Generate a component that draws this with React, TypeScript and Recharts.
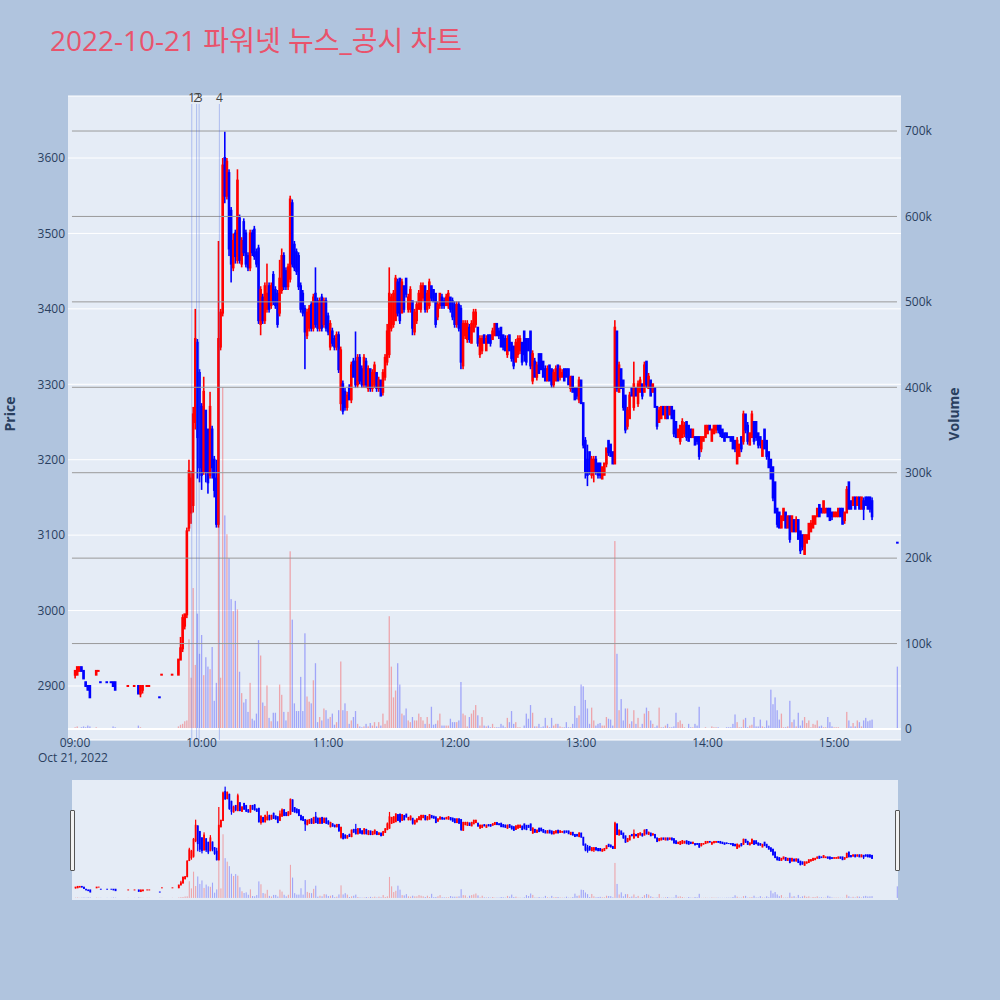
import React from "react";
import { ComposedChart, Bar, XAxis, YAxis, CartesianGrid, ReferenceLine } from "recharts";

// minutes after 09:00 (390 = 15:30 closing auction)
const minute = [
  0, 1, 2, 3, 4, 5, 6, 7, 10, 11, 12, 15, 17, 18, 19, 25, 28, 30, 31, 32, 34, 35, 40, 41, 46, 49, 50, 51, 52,
  53, 54, 55, 56, 57, 58, 59, 60, 61, 62,
  63, 64, 65, 66, 67, 68, 69, 70, 71, 72,
  73, 74, 75, 76, 77, 78, 79, 80, 81, 82,
  83, 84, 85, 86, 87, 88, 89, 90, 91, 92,
  93, 94, 95, 96, 97, 98, 99, 100, 101, 102,
  103, 104, 105, 106, 107, 108, 109, 110, 111, 112,
  113, 114, 115, 116, 117, 118, 119, 120, 121, 122,
  123, 124, 125, 126, 127, 128, 129, 130, 131, 132,
  133, 134, 135, 136, 137, 138, 139, 140, 141, 142,
  143, 144, 145, 146, 147, 148, 149, 150, 151, 152,
  153, 154, 155, 156, 157, 158, 159, 160, 161, 162,
  163, 164, 165, 166, 167, 168, 169, 170, 171, 172,
  173, 174, 175, 176, 177, 178, 179, 180, 181, 182,
  183, 184, 185, 186, 187, 188, 189, 190, 191, 192,
  193, 194, 195, 196, 197, 198, 199, 200, 201, 202,
  203, 204, 205, 206, 207, 208, 209, 210, 211, 212,
  213, 214, 215, 216, 217, 218, 219, 220, 221, 222,
  223, 224, 225, 226, 227, 228, 229, 230, 231, 232,
  233, 234, 235, 236, 237, 238, 239, 240, 241, 242,
  243, 244, 245, 246, 247, 248, 249, 250, 251, 252,
  253, 254, 255, 256, 257, 258, 259, 260, 261, 262,
  263, 264, 265, 266, 267, 268, 269, 270, 271, 272,
  273, 274, 275, 276, 277, 278, 279, 280, 281, 282,
  283, 284, 285, 286, 287, 288, 289, 290, 291, 292,
  293, 294, 295, 296, 297, 298, 299, 300, 301, 302,
  303, 304, 305, 306, 307, 308, 309, 310, 311, 312,
  313, 314, 315, 316, 317, 318, 319, 320, 321, 322,
  323, 324, 325, 326, 327, 328, 329, 330, 331, 332,
  333, 334, 335, 336, 337, 338, 339, 340, 341, 342,
  343, 344, 345, 346, 347, 348, 349, 350, 351, 352,
  353, 354, 355, 356, 357, 358, 359, 360, 361, 362,
  363, 364, 365, 366, 367, 368, 369, 370, 371, 372,
  373, 374, 375, 376, 377, 378,
  390,
];

const open = [
  2915, 2915, 2920, 2925, 2920, 2905, 2900, 2900, 2915, 2920, 2905, 2905, 2905, 2905, 2905, 2900, 2900, 2900, 2890, 2895, 2900, 2900, 2885, 2915, 2915, 2915, 2935, 2950, 2980,
  2995, 3110, 3130, 3140, 3250, 3355, 3315, 3270, 3185, 3265,
  3240, 3180, 3240, 3200, 3175, 3115, 3350, 3395, 3600, 3550,
  3580, 3530, 3455, 3500, 3465, 3520, 3460, 3515, 3500, 3470,
  3455, 3500, 3505, 3475, 3480, 3380, 3415, 3385, 3400, 3430,
  3405, 3445, 3425, 3420, 3395, 3425, 3470, 3450, 3430, 3440,
  3540, 3485, 3475, 3470, 3430, 3420, 3400, 3365, 3375, 3405,
  3375, 3420, 3410, 3375, 3415, 3380, 3410, 3390, 3350, 3370,
  3360, 3350, 3365, 3275, 3300, 3290, 3270, 3295, 3280, 3330,
  3330, 3300, 3335, 3320, 3300, 3330, 3295, 3320, 3295, 3300,
  3315, 3295, 3305, 3290, 3310, 3330, 3340, 3375, 3380, 3385,
  3435, 3440, 3395, 3430, 3440, 3400, 3400, 3410, 3370, 3385,
  3400, 3400, 3415, 3430, 3400, 3405, 3430, 3425, 3420, 3390,
  3405, 3415, 3410, 3405, 3405, 3415, 3410, 3405, 3380, 3405,
  3400, 3325, 3365, 3360, 3375, 3355, 3370, 3380, 3375, 3340,
  3345, 3365, 3345, 3365, 3365, 3360, 3365, 3380, 3370, 3375,
  3365, 3360, 3340, 3365, 3355, 3350, 3330, 3340, 3345, 3355,
  3370, 3360, 3360, 3370, 3305, 3330, 3310, 3340, 3340, 3330,
  3320, 3305, 3325, 3320, 3300, 3305, 3325, 3310, 3310, 3320,
  3320, 3320, 3295, 3310, 3295, 3295, 3280, 3305, 3275, 3225,
  3200, 3210, 3180, 3185, 3200, 3195, 3195, 3175, 3180, 3195,
  3225, 3220, 3210, 3195, 3370, 3290, 3320, 3305, 3285, 3245,
  3255, 3295, 3270, 3295, 3275, 3290, 3300, 3290, 3330, 3295,
  3305, 3290, 3295, 3270, 3250, 3255, 3270, 3255, 3270, 3260,
  3270, 3265, 3250, 3230, 3225, 3230, 3235, 3250, 3245, 3240,
  3230, 3230, 3230, 3230, 3215, 3225, 3230, 3235, 3245, 3225,
  3235, 3240, 3245, 3245, 3240, 3235, 3235, 3230, 3230, 3230,
  3225, 3195, 3205, 3230, 3225, 3260, 3245, 3220, 3230, 3250,
  3250, 3235, 3230, 3205, 3240, 3225, 3210, 3200, 3190, 3170,
  3135, 3130, 3110, 3120, 3130, 3110, 3125, 3105, 3120, 3105,
  3120, 3105, 3100, 3075, 3090, 3095, 3105, 3110, 3115, 3125,
  3140, 3135, 3130, 3130, 3135, 3135, 3130, 3125, 3125, 3125,
  3135, 3135, 3120, 3130, 3170, 3145, 3140, 3150, 3140, 3150,
  3135, 3145, 3150, 3150, 3150, 3145,
  3090,
];

const high = [
  2920, 2925, 2925, 2925, 2920, 2905, 2900, 2900, 2920, 2920, 2905, 2905, 2905, 2905, 2905, 2900, 2900, 2900, 2900, 2900, 2900, 2900, 2885, 2915, 2915, 2935, 2965, 2995, 2995,
  3110, 3200, 3185, 3270, 3400, 3360, 3320, 3275, 3310, 3265,
  3240, 3290, 3245, 3205, 3200, 3490, 3400, 3600, 3635, 3600,
  3585, 3535, 3500, 3505, 3585, 3525, 3495, 3520, 3505, 3475,
  3505, 3505, 3510, 3480, 3485, 3430, 3420, 3435, 3460, 3435,
  3435, 3450, 3430, 3425, 3465, 3480, 3475, 3455, 3460, 3550,
  3545, 3490, 3480, 3475, 3435, 3425, 3405, 3400, 3405, 3410,
  3420, 3455, 3415, 3415, 3420, 3415, 3415, 3395, 3385, 3375,
  3365, 3370, 3370, 3350, 3305, 3295, 3290, 3300, 3330, 3335,
  3370, 3340, 3340, 3325, 3340, 3335, 3325, 3320, 3320, 3330,
  3315, 3310, 3305, 3320, 3340, 3380, 3455, 3420, 3425, 3445,
  3440, 3440, 3440, 3430, 3440, 3420, 3430, 3410, 3400, 3410,
  3425, 3435, 3435, 3430, 3425, 3440, 3430, 3425, 3420, 3410,
  3420, 3420, 3415, 3420, 3425, 3415, 3415, 3410, 3410, 3410,
  3405, 3385, 3385, 3385, 3380, 3385, 3400, 3400, 3375, 3365,
  3365, 3365, 3365, 3365, 3365, 3375, 3380, 3380, 3375, 3375,
  3365, 3365, 3365, 3365, 3355, 3350, 3360, 3365, 3365, 3355,
  3370, 3360, 3360, 3370, 3345, 3335, 3330, 3340, 3340, 3330,
  3325, 3325, 3325, 3320, 3320, 3325, 3325, 3325, 3320, 3320,
  3320, 3320, 3310, 3310, 3295, 3295, 3310, 3305, 3275, 3230,
  3220, 3210, 3205, 3205, 3205, 3195, 3195, 3190, 3195, 3215,
  3225, 3220, 3210, 3385, 3370, 3330, 3320, 3305, 3285, 3270,
  3290, 3295, 3330, 3295, 3305, 3310, 3300, 3330, 3330, 3315,
  3305, 3300, 3295, 3270, 3270, 3270, 3270, 3270, 3270, 3270,
  3270, 3265, 3250, 3240, 3245, 3255, 3250, 3250, 3245, 3240,
  3240, 3230, 3230, 3230, 3230, 3230, 3245, 3245, 3245, 3240,
  3245, 3245, 3245, 3245, 3240, 3235, 3235, 3230, 3230, 3230,
  3225, 3230, 3220, 3230, 3265, 3260, 3250, 3235, 3265, 3250,
  3250, 3235, 3230, 3225, 3240, 3225, 3210, 3200, 3190, 3170,
  3135, 3130, 3125, 3135, 3130, 3125, 3125, 3125, 3120, 3125,
  3120, 3105, 3100, 3100, 3100, 3115, 3120, 3125, 3125, 3135,
  3140, 3135, 3145, 3135, 3135, 3135, 3130, 3130, 3130, 3135,
  3135, 3135, 3130, 3165, 3170, 3145, 3150, 3150, 3150, 3150,
  3150, 3150, 3150, 3150, 3150, 3150,
  3090,
];

const low = [
  2910, 2915, 2920, 2920, 2910, 2900, 2895, 2885, 2915, 2920, 2905, 2905, 2905, 2900, 2895, 2900, 2900, 2890, 2885, 2890, 2900, 2900, 2885, 2915, 2915, 2915, 2935, 2945, 2975,
  2990, 3105, 3115, 3130, 3240, 3175, 3170, 3160, 3180, 3170,
  3155, 3175, 3175, 3150, 3110, 3110, 3345, 3390, 3540, 3545,
  3470, 3435, 3450, 3460, 3460, 3460, 3455, 3470, 3455, 3450,
  3450, 3470, 3465, 3455, 3380, 3365, 3380, 3380, 3395, 3395,
  3400, 3405, 3400, 3375, 3390, 3420, 3425, 3425, 3425, 3435,
  3455, 3450, 3445, 3425, 3395, 3390, 3320, 3360, 3370, 3370,
  3370, 3375, 3370, 3370, 3370, 3375, 3370, 3365, 3345, 3350,
  3345, 3345, 3315, 3265, 3260, 3265, 3265, 3280, 3275, 3310,
  3295, 3295, 3300, 3295, 3295, 3295, 3290, 3290, 3290, 3295,
  3290, 3290, 3285, 3285, 3305, 3325, 3335, 3370, 3375, 3385,
  3390, 3380, 3395, 3395, 3415, 3395, 3395, 3365, 3365, 3380,
  3400, 3395, 3410, 3395, 3395, 3400, 3410, 3410, 3375, 3385,
  3400, 3400, 3400, 3405, 3400, 3395, 3385, 3375, 3375, 3370,
  3320, 3320, 3360, 3355, 3355, 3355, 3370, 3375, 3350, 3335,
  3340, 3355, 3345, 3355, 3350, 3360, 3365, 3365, 3360, 3350,
  3345, 3345, 3335, 3345, 3330, 3320, 3330, 3335, 3340, 3325,
  3330, 3325, 3345, 3320, 3300, 3310, 3305, 3315, 3320, 3310,
  3305, 3305, 3305, 3295, 3295, 3305, 3305, 3305, 3310, 3305,
  3310, 3300, 3290, 3290, 3280, 3280, 3275, 3275, 3215, 3175,
  3165, 3180, 3175, 3170, 3180, 3175, 3175, 3175, 3180, 3190,
  3205, 3205, 3195, 3195, 3290, 3290, 3295, 3265, 3235, 3240,
  3255, 3285, 3265, 3285, 3270, 3290, 3280, 3290, 3295, 3295,
  3285, 3290, 3270, 3240, 3250, 3255, 3260, 3255, 3255, 3260,
  3255, 3230, 3230, 3230, 3220, 3230, 3230, 3225, 3225, 3230,
  3230, 3220, 3220, 3200, 3210, 3225, 3230, 3235, 3240, 3225,
  3235, 3235, 3235, 3230, 3230, 3225, 3230, 3230, 3225, 3215,
  3210, 3195, 3205, 3210, 3220, 3235, 3220, 3220, 3230, 3220,
  3225, 3215, 3215, 3205, 3215, 3200, 3190, 3175, 3145, 3130,
  3110, 3110, 3110, 3120, 3110, 3110, 3090, 3105, 3105, 3105,
  3095, 3075, 3080, 3075, 3090, 3095, 3105, 3110, 3115, 3125,
  3125, 3130, 3130, 3130, 3125, 3120, 3120, 3125, 3125, 3125,
  3125, 3115, 3115, 3130, 3135, 3135, 3140, 3135, 3140, 3135,
  3135, 3120, 3140, 3135, 3130, 3120,
  3090,
];

const close = [
  2920, 2925, 2925, 2920, 2910, 2900, 2895, 2885, 2920, 2920, 2905, 2905, 2905, 2900, 2895, 2900, 2900, 2890, 2900, 2900, 2900, 2900, 2885, 2915, 2915, 2935, 2950, 2990, 2995,
  3105, 3185, 3175, 3260, 3360, 3230, 3190, 3180, 3290, 3185,
  3170, 3270, 3190, 3160, 3115, 3360, 3395, 3590, 3550, 3595,
  3480, 3460, 3490, 3470, 3570, 3465, 3490, 3475, 3460, 3455,
  3500, 3475, 3470, 3460, 3385, 3425, 3385, 3430, 3420, 3400,
  3430, 3410, 3405, 3380, 3440, 3470, 3430, 3430, 3455, 3545,
  3460, 3455, 3450, 3430, 3400, 3395, 3370, 3395, 3400, 3375,
  3415, 3380, 3375, 3410, 3375, 3410, 3375, 3370, 3380, 3355,
  3350, 3365, 3320, 3345, 3265, 3270, 3285, 3280, 3325, 3310,
  3300, 3335, 3305, 3300, 3335, 3300, 3320, 3295, 3315, 3325,
  3295, 3305, 3285, 3315, 3335, 3370, 3420, 3415, 3420, 3440,
  3395, 3385, 3435, 3400, 3420, 3415, 3425, 3375, 3395, 3405,
  3420, 3430, 3430, 3400, 3420, 3435, 3415, 3410, 3380, 3405,
  3420, 3405, 3405, 3415, 3420, 3400, 3390, 3380, 3405, 3375,
  3330, 3380, 3380, 3380, 3360, 3380, 3395, 3395, 3355, 3360,
  3360, 3355, 3360, 3355, 3355, 3370, 3380, 3365, 3365, 3350,
  3350, 3345, 3360, 3345, 3335, 3325, 3355, 3360, 3360, 3330,
  3340, 3330, 3345, 3325, 3340, 3310, 3325, 3315, 3320, 3310,
  3305, 3320, 3305, 3300, 3315, 3320, 3305, 3320, 3315, 3305,
  3310, 3300, 3310, 3290, 3280, 3285, 3305, 3275, 3220, 3185,
  3180, 3185, 3200, 3200, 3185, 3180, 3180, 3190, 3195, 3215,
  3210, 3205, 3195, 3375, 3295, 3325, 3295, 3270, 3240, 3265,
  3285, 3285, 3300, 3285, 3300, 3305, 3285, 3325, 3300, 3310,
  3285, 3300, 3270, 3245, 3265, 3270, 3260, 3270, 3255, 3270,
  3255, 3235, 3230, 3240, 3245, 3250, 3245, 3230, 3225, 3230,
  3240, 3220, 3225, 3205, 3230, 3230, 3245, 3245, 3240, 3240,
  3245, 3245, 3240, 3235, 3230, 3225, 3230, 3230, 3225, 3215,
  3215, 3225, 3220, 3215, 3260, 3240, 3225, 3235, 3260, 3225,
  3230, 3220, 3220, 3225, 3215, 3205, 3190, 3175, 3150, 3130,
  3115, 3110, 3125, 3135, 3110, 3125, 3095, 3125, 3105, 3120,
  3095, 3080, 3085, 3100, 3100, 3115, 3115, 3125, 3125, 3135,
  3125, 3130, 3145, 3135, 3125, 3120, 3125, 3130, 3130, 3135,
  3125, 3115, 3130, 3160, 3135, 3135, 3150, 3135, 3150, 3135,
  3150, 3135, 3140, 3135, 3135, 3125,
  3090,
];

// traded volume, thousands of shares
const volumeK = [
  2, 3, 1, 2, 3, 2, 4, 3, 2, 1, 1, 1, 1, 3, 2, 1, 1, 4, 2, 1, 1, 1, 1, 1, 1, 3, 5, 6, 9,
  10, 105, 60, 165, 75, 135, 88, 110, 63, 84,
  73, 70, 96, 33, 54, 300, 60, 400, 250, 228,
  200, 152, 138, 150, 140, 67, 42, 31, 35, 20,
  54, 12, 10, 18, 104, 86, 31, 27, 51, 13,
  9, 19, 19, 9, 52, 40, 20, 10, 20, 208,
  128, 30, 21, 21, 61, 21, 112, 38, 32, 30,
  57, 77, 8, 14, 10, 24, 22, 12, 14, 18,
  5, 8, 22, 79, 22, 30, 21, 6, 10, 14,
  21, 6, 3, 2, 3, 6, 3, 7, 4, 8,
  3, 8, 4, 18, 6, 10, 132, 73, 37, 45,
  77, 52, 18, 16, 24, 10, 8, 14, 10, 10,
  18, 14, 10, 6, 14, 6, 26, 5, 6, 10,
  18, 4, 4, 4, 4, 12, 8, 8, 8, 10,
  55, 18, 16, 3, 14, 18, 22, 28, 16, 4,
  14, 4, 3, 4, 2, 6, 2, 2, 2, 6,
  4, 2, 13, 8, 21, 6, 8, 2, 2, 1,
  4, 18, 12, 28, 19, 3, 3, 6, 2, 3,
  13, 4, 2, 13, 4, 6, 6, 3, 2, 2,
  8, 2, 2, 6, 27, 13, 16, 52, 50, 34,
  24, 6, 25, 10, 4, 6, 7, 4, 4, 14,
  12, 11, 4, 220, 88, 22, 35, 10, 24, 24,
  6, 9, 22, 6, 13, 2, 6, 18, 25, 21,
  10, 6, 2, 4, 25, 2, 2, 4, 6, 2,
  2, 3, 19, 8, 10, 6, 2, 1, 6, 2,
  2, 6, 4, 26, 1, 1, 2, 1, 1, 3,
  2, 2, 2, 1, 1, 1, 2, 2, 2, 6,
  17, 8, 2, 2, 11, 13, 2, 4, 5, 14,
  3, 3, 11, 3, 2, 10, 4, 46, 29, 37,
  22, 11, 18, 2, 2, 3, 33, 8, 11, 3,
  19, 4, 10, 14, 7, 10, 2, 6, 5, 10,
  3, 4, 2, 2, 14, 8, 3, 2, 2, 2,
  1, 1, 1, 20, 10, 3, 7, 3, 10, 8,
  3, 10, 13, 9, 10, 11,
  73,
];

// news / disclosure markers (minutes after 09:00)
const newsMinute = [55.4, 57.7, 58.9, 68.5];
const newsLabel = ["1", "2", "3", "4"];

const priceTicks = [2900, 3000, 3100, 3200, 3300, 3400, 3500, 3600];
const volumeTicks = [0, 100000, 200000, 300000, 400000, 500000, 600000, 700000];
const timeTicks = [0, 60, 120, 180, 240, 300, 360];
const timeLabels = ["09:00", "10:00", "11:00", "12:00", "13:00", "14:00", "15:00"];
const dateLabel = "Oct 21, 2022";
const title = "2022-10-21 파워넷 뉴스_공시 차트";

const UP = "#ff0000";
const DOWN = "#0000ff";
const INK = "#2a3f5f";
const PLOT_BG = "#e5ecf6";
const PAPER = "#b0c4de";
const FONT = '"Open Sans", "Noto Sans CJK KR", verdana, arial, sans-serif';

const PRICE_DOMAIN: [number, number] = [2828.4, 3682.2];
const VOL_DOMAIN: [number, number] = [-12900, 741000];
const MAIN_X: [number, number] = [-3.3, 391.8];
const SLIDER_X: [number, number] = [-1.6, 390.4];
const NEWS_TOP = 3671.6;

type Row = { t: number; o: number; h: number; l: number; c: number; v: number; up: boolean; range: [number, number] };

const rows: Row[] = [];
{
  let prevClose = NaN;
  let prevUp = true;
  minute.forEach((t, i) => {
    const o = open[i];
    const c = close[i];
    // plotly rule: flat candles take direction from the previous close
    let up = prevUp;
    if (c > o) up = true;
    else if (c < o) up = false;
    else if (c > prevClose) up = true;
    else if (c < prevClose) up = false;
    prevClose = c;
    prevUp = up;
    rows.push({ t, o, h: high[i], l: low[i], c, v: volumeK[i] * 1000, up, range: [low[i], high[i]] });
  });
}

const makeCandle = (bodyW: number, wickW: number, pad: number) => (props: any) => {
  const { x, y, width, height, payload } = props;
  if (!payload || !Number.isFinite(x) || !Number.isFinite(y)) return <g />;
  const { o, h, l, c, up } = payload as Row;
  const hh = Number.isFinite(height) ? height : 0;
  const k = h > l ? hh / (h - l) : 0;
  const mid = x + width / 2;
  const top = y + (h - Math.max(o, c)) * k;
  const bot = y + (h - Math.min(o, c)) * k;
  const col = up ? UP : DOWN;
  return (
    <g>
      <rect x={mid - wickW / 2} y={y} width={wickW} height={Math.max(hh, 0)} fill={col} />
      <rect x={mid - bodyW / 2} y={top - pad} width={bodyW} height={bot - top + 2 * pad} fill={col} />
    </g>
  );
};

const makeVolume = (w: number) => (props: any) => {
  const { x, y, width, height, payload } = props;
  if (!payload || !(height > 0)) return <g />;
  return (
    <rect x={x + width / 2 - w / 2} y={y} width={w} height={height} fill={payload.up ? UP : DOWN} fillOpacity={0.3} />
  );
};

const mainCandle = makeCandle(2.6, 1.6, 1);
const mainVolume = makeVolume(1.3);
const sliderCandle = makeCandle(1.8, 1.2, 0.5);
const sliderVolume = makeVolume(1.1);

function TimeTick(props: any) {
  const { x, y, payload } = props;
  const i = timeTicks.indexOf(payload.value);
  return (
    <g>
      <text x={x} y={y + 7} textAnchor="middle" fontSize={12} fill={INK} fontFamily={FONT}>
        {timeLabels[i]}
      </text>
      {i === 0 && (
        <text x={x - 2} y={y + 22} textAnchor="middle" fontSize={12} fill={INK} fontFamily={FONT}>
          {dateLabel}
        </text>
      )}
    </g>
  );
}

const fmtVol = (v: number) => (v === 0 ? "0" : `${v / 1000}k`);

export default function App() {
  return (
    <div style={{ position: "absolute", left: 0, top: 0, width: 1000, height: 1000, background: PAPER, overflow: "hidden", fontFamily: FONT }}>
      <div style={{ position: "absolute", left: 68, top: 96, width: 833, height: 644, background: PLOT_BG }} />
      <div style={{ position: "absolute", left: 72, top: 780, width: 826, height: 120, background: PLOT_BG }} />

      <div style={{ position: "absolute", left: 0, top: 0 }}>
        <ComposedChart width={1000} height={780} data={rows} margin={{ top: 96, right: 0, bottom: 0, left: 0 }}>
          <CartesianGrid xAxisId="tp" yAxisId="price" vertical={false} stroke="#ffffff" strokeWidth={1} />
          <XAxis
            xAxisId="tp"
            dataKey="t"
            type="number"
            domain={MAIN_X}
            allowDataOverflow
            ticks={timeTicks}
            interval={0}
            height={40}
            axisLine={false}
            tickLine={false}
            tickSize={0}
            tickMargin={0}
            tick={<TimeTick />}
          />
          <XAxis xAxisId="tv" dataKey="t" type="number" domain={MAIN_X} allowDataOverflow hide />
          <YAxis
            yAxisId="price"
            orientation="left"
            width={68}
            domain={PRICE_DOMAIN}
            allowDataOverflow
            ticks={priceTicks}
            interval={0}
            axisLine={false}
            tickLine={false}
            tickSize={0}
            tickMargin={3}
            tick={{ fontSize: 12, fill: INK, fontFamily: FONT }}
          />
          <YAxis
            yAxisId="vol"
            orientation="right"
            width={99}
            domain={VOL_DOMAIN}
            allowDataOverflow
            ticks={volumeTicks}
            interval={0}
            tickFormatter={fmtVol}
            axisLine={false}
            tickLine={false}
            tickSize={0}
            tickMargin={4}
            tick={{ fontSize: 12, fill: INK, fontFamily: FONT, textAnchor: "start" }}
          />
          <ReferenceLine xAxisId="tv" yAxisId="vol" y={0} stroke="#ffffff" strokeWidth={2} />
          {volumeTicks
            .filter((v) => v > 0)
            .map((v) => (
              <ReferenceLine
                key={v}
                xAxisId="tv"
                yAxisId="vol"
                segment={[
                  { x: -1.42, y: v },
                  { x: 389.9, y: v },
                ]}
                stroke="#9a9a9a"
                strokeWidth={1}
              />
            ))}
          <Bar xAxisId="tv" yAxisId="vol" dataKey="v" shape={mainVolume} isAnimationActive={false} />
          {newsMinute.map((m, i) => (
            <ReferenceLine
              key={"n" + i}
              xAxisId="tp"
              yAxisId="price"
              segment={[
                { x: m, y: NEWS_TOP },
                { x: m, y: PRICE_DOMAIN[0] },
              ]}
              stroke="rgba(70,100,225,0.35)"
              strokeWidth={1}
              label={(p: any) => (
                <text x={p.viewBox?.x ?? 0} y={(p.viewBox?.y ?? 104) - 2} textAnchor="middle" fontSize={12} fill="#444" fontFamily={FONT}>
                  {newsLabel[i]}
                </text>
              )}
            />
          ))}
          <Bar xAxisId="tp" yAxisId="price" dataKey="range" shape={mainCandle} isAnimationActive={false} />
        </ComposedChart>
      </div>

      <div style={{ position: "absolute", left: 0, top: 780 }}>
        <ComposedChart width={1000} height={120} data={rows} margin={{ top: 0, right: 102, bottom: 0, left: 72 }}>
          <XAxis xAxisId="sp" dataKey="t" type="number" domain={SLIDER_X} allowDataOverflow hide />
          <XAxis xAxisId="sv" dataKey="t" type="number" domain={SLIDER_X} allowDataOverflow hide />
          <YAxis yAxisId="sprice" domain={PRICE_DOMAIN} allowDataOverflow hide />
          <YAxis yAxisId="svol" domain={VOL_DOMAIN} allowDataOverflow hide />
          <Bar xAxisId="sv" yAxisId="svol" dataKey="v" shape={sliderVolume} isAnimationActive={false} />
          <Bar xAxisId="sp" yAxisId="sprice" dataKey="range" shape={sliderCandle} isAnimationActive={false} />
        </ComposedChart>
      </div>

      <div style={{ position: "absolute", left: 70, top: 810, width: 3, height: 59, background: "#f2f2f2", border: "1px solid #555", borderRadius: 1 }} />
      <div style={{ position: "absolute", left: 895, top: 810, width: 3, height: 59, background: "#f2f2f2", border: "1px solid #555", borderRadius: 1 }} />

      <svg width={1000} height={1000} style={{ position: "absolute", left: 0, top: 0, pointerEvents: "none" }}>
        <text x={50} y={51} fontSize={28} fill="#e9536c" fontFamily={FONT}>
          {title}
        </text>
        <text transform="translate(15,414) rotate(-90)" textAnchor="middle" fontSize={14} fontWeight={700} fill={INK} fontFamily={FONT}>
          Price
        </text>
        <text transform="translate(959,414) rotate(-90)" textAnchor="middle" fontSize={14} fontWeight={700} fill={INK} fontFamily={FONT}>
          Volume
        </text>
      </svg>
    </div>
  );
}
